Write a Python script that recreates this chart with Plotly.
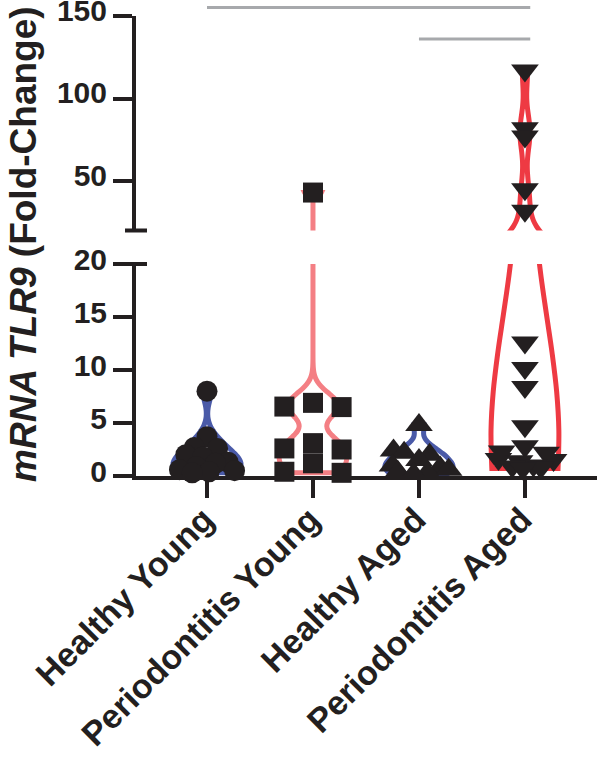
import plotly.graph_objects as go

# ---------------- data ----------------
categories = ["Healthy Young", "Periodontitis Young", "Healthy Aged", "Periodontitis Aged"]

hy_values = [8.0, 3.7, 2.7, 2.6, 2.0, 1.8, 1.3, 1.2, 0.9, 0.6, 0.5, 0.4, 0.3]
hy_jitter = [0.0, 0.0, -0.12, 0.10, -0.20, -0.04, 0.20, 0.08, -0.10, -0.26, 0.26, 0.02, -0.14]

py_values = [43.0, 6.9, 6.55, 6.5, 3.1, 2.6, 2.5, 1.2, 0.4, 0.3]
py_jitter = [0.0, 0.0, -0.27, 0.27, 0.0, -0.27, 0.27, 0.0, -0.27, 0.27]

ha_values = [4.8, 2.4, 2.2, 2.0, 1.5, 1.0, 0.8, 0.6, 0.4, 0.3, 0.2]
ha_jitter = [0.0, -0.24, -0.14, 0.10, 0.0, -0.25, 0.20, 0.28, -0.20, 0.08, -0.05]

pa_values = [117.0, 82.0, 77.0, 45.0, 32.0, 12.6, 10.2, 8.4, 4.7, 2.8, 2.3, 2.2,
             1.6, 1.5, 1.4, 1.0, 0.9, 0.8, 0.7]
pa_jitter = [0.0, 0.0, 0.0, 0.0, 0.0, 0.0, 0.0, 0.0, 0.0, 0.0, -0.22, 0.20,
             -0.25, 0.27, -0.05, 0.08, -0.12, 0.15, -0.02]

violin_colors = ["#4a5aa8", "#f47f84", "#4a5aa8", "#ee3a43"]
violin_bandwidths = [None, 1.2, None, None]
marker_symbols = ["circle", "square", "triangle-up", "triangle-down"]
marker_sizes = [21, 20, 24, 24]

lower_range = [0, 20]
upper_range = [20, 150]
lower_ticks = [0, 5, 10, 15, 20]
upper_ticks = [50, 100, 150]
x_range = [-0.67, 3.68]

# significance comparisons (group index pairs)
sig_pairs = [(0, 3), (2, 3)]

# ---------------- styling ----------------
INK = "#231f20"
FONT = "Liberation Sans, Arial, Helvetica, sans-serif"
LOWER_DOMAIN = [0.0, 0.4609]
UPPER_DOMAIN = [0.5337, 1.0]

groups = [
    (hy_values, hy_jitter),
    (py_values, py_jitter),
    (ha_values, ha_jitter),
    (pa_values, pa_jitter),
]

fig = go.Figure()

# violins on both segments of the broken axis
for i, (vals, jit) in enumerate(groups):
    for yax in ["y", "y2"]:
        kw = {}
        if violin_bandwidths[i] is not None:
            kw["bandwidth"] = violin_bandwidths[i]
        fig.add_trace(go.Violin(
            x=[i] * len(vals), y=vals, yaxis=yax, xaxis="x",
            width=0.64, spanmode="hard", points=False,
            line=dict(color=violin_colors[i], width=5),
            fillcolor="rgba(255,255,255,0)",
            box_visible=False, meanline_visible=False,
            hoverinfo="skip", showlegend=False, name=categories[i], **kw,
        ))

# points
for i, (vals, jit) in enumerate(groups):
    lo = [(i + j, v) for v, j in zip(vals, jit) if v <= lower_range[1]]
    hi = [(i + j, v) for v, j in zip(vals, jit) if v > upper_range[0]]
    for pts, yax in [(lo, "y"), (hi, "y2")]:
        if not pts:
            continue
        fig.add_trace(go.Scatter(
            x=[p[0] for p in pts], y=[p[1] for p in pts], yaxis=yax, xaxis="x",
            mode="markers", cliponaxis=False,
            marker=dict(symbol=marker_symbols[i], size=marker_sizes[i], color=INK,
                        line=dict(width=0)),
            hoverinfo="skip", showlegend=False,
        ))

axis_common = dict(
    showline=True, linewidth=4, linecolor=INK, ticks="outside", ticklen=19,
    tickwidth=4, tickcolor=INK, showgrid=False, zeroline=False,
    ticklabeloverflow="allow",
    tickfont=dict(family=FONT, size=30, color=INK, weight="bold"),
)

fig.update_layout(
    width=602, height=762,
    margin=dict(l=136, r=5, t=16, b=286),
    plot_bgcolor="white", paper_bgcolor="white",
    showlegend=False, violinmode="overlay",
    font=dict(family=FONT, color=INK),
    xaxis=dict(
        range=x_range, tickvals=list(range(len(categories))), ticktext=categories,
        tickangle=-45, showline=True, linewidth=4, linecolor=INK,
        ticks="outside", ticklen=18, tickwidth=4, tickcolor=INK,
        showgrid=False, zeroline=False, automargin=False, anchor="y",
        ticklabelstandoff=-12, ticklabelshift=-3, ticklabeloverflow="allow",
        tickfont=dict(family=FONT, size=34, color=INK, weight="bold"),
    ),
    yaxis=dict(domain=LOWER_DOMAIN, range=lower_range, tickvals=lower_ticks,
               anchor="x", automargin=False, ticklabelshift=-4, **axis_common),
    yaxis2=dict(domain=UPPER_DOMAIN, range=upper_range, tickvals=upper_ticks,
                anchor="x", automargin=False, ticklabelshift=-6, **axis_common),
)

# break caps on the y axis
for yc in [LOWER_DOMAIN[1], UPPER_DOMAIN[0]]:
    fig.add_shape(type="line", xref="paper", xsizemode="pixel", xanchor=0,
                  x0=-11, x1=11, yref="paper", y0=yc, y1=yc,
                  line=dict(color=INK, width=4))

# significance lines
def xfrac(v):
    return (v - x_range[0]) / (x_range[1] - x_range[0])

sig_y = [1.0185, 0.95]
for (a, b), yy in zip(sig_pairs, sig_y):
    fig.add_shape(type="line", xref="x domain", yref="paper",
                  x0=xfrac(a), x1=xfrac(b + 0.05), y0=yy, y1=yy,
                  line=dict(color="#a7a9ac", width=3))

# y-axis title spanning both segments
fig.add_annotation(
    text="<i>mRNA TLR9</i> (Fold-Change)", xref="paper", yref="paper",
    x=-0.243, y=0.5045, textangle=-90, showarrow=False,
    xanchor="center", yanchor="middle",
    font=dict(family=FONT, size=37, color=INK, weight="bold"),
)

# place the figure flush with the page corner (no default body margin)
fig.write_html("out.html", config={"displayModeBar": False},
               post_script="document.body.style.margin='0';")
